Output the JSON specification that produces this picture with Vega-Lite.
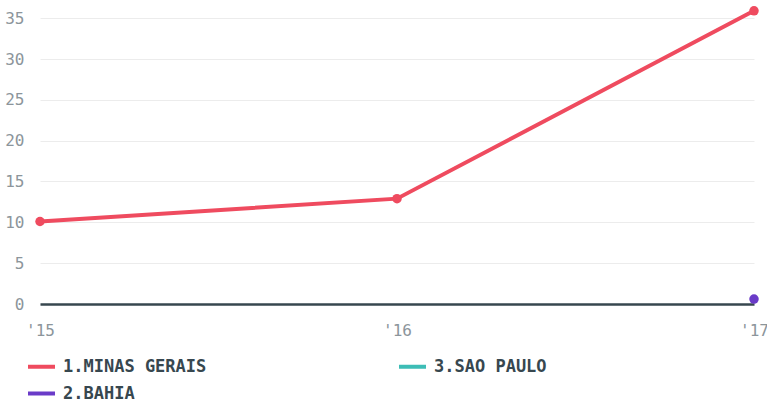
{
  "$schema": "https://vega.github.io/schema/vega-lite/v6.json",
  "width": 714,
  "height": 294,
  "autosize": {"type": "none"},
  "padding": {"left": 40, "top": 10, "right": 13, "bottom": 101},
  "background": "white",
  "config": {
    "view": {"stroke": null},
    "font": "DejaVu Sans Mono"
  },
  "data": {
    "values": [
      {"year": "'15", "state": "1.MINAS GERAIS", "value": 10.1},
      {"year": "'16", "state": "1.MINAS GERAIS", "value": 12.9},
      {"year": "'17", "state": "1.MINAS GERAIS", "value": 35.9},
      {"year": "'17", "state": "2.BAHIA", "value": 0.6}
    ]
  },
  "encoding": {
    "x": {
      "field": "year",
      "type": "ordinal",
      "scale": {"type": "point", "padding": 0},
      "axis": {
        "title": null,
        "labelAngle": 0,
        "domainColor": "#37474f",
        "domainWidth": 2.5,
        "ticks": false,
        "labelPadding": 18,
        "labelFont": "DejaVu Sans Mono",
        "labelFontSize": 16,
        "labelColor": "#8c959b",
        "grid": false
      }
    },
    "y": {
      "field": "value",
      "type": "quantitative",
      "scale": {"domain": [0, 36], "nice": false},
      "axis": {
        "title": null,
        "values": [0, 5, 10, 15, 20, 25, 30, 35],
        "domain": false,
        "ticks": false,
        "labelPadding": 16,
        "labelFont": "DejaVu Sans Mono",
        "labelFontSize": 16,
        "labelColor": "#8c959b",
        "gridColor": "#ececec",
        "gridWidth": 1
      }
    }
  },
  "layer": [
    {
      "mark": {"type": "line", "strokeWidth": 4},
      "encoding": {
        "color": {
          "field": "state",
          "type": "nominal",
          "scale": {
            "domain": ["1.MINAS GERAIS", "3.SAO PAULO", "2.BAHIA"],
            "range": ["#ef4b5f", "#3dbdb6", "#6a3bc8"]
          },
          "legend": {
            "title": null,
            "orient": "none",
            "legendX": -14,
            "legendY": 341,
            "direction": "horizontal",
            "columns": 2,
            "columnPadding": 184,
            "rowPadding": 3,
            "symbolType": "stroke",
            "symbolSize": 729,
            "symbolStrokeWidth": 4,
            "labelFont": "DejaVu Sans Mono",
            "labelFontSize": 17,
            "labelFontWeight": "bold",
            "labelColor": "#37474f",
            "labelOffset": 6,
            "labelLimit": 300
          }
        }
      }
    },
    {
      "mark": {"type": "point", "filled": true, "size": 90, "opacity": 1},
      "encoding": {
        "color": {"field": "state", "type": "nominal", "legend": null}
      }
    }
  ]
}
